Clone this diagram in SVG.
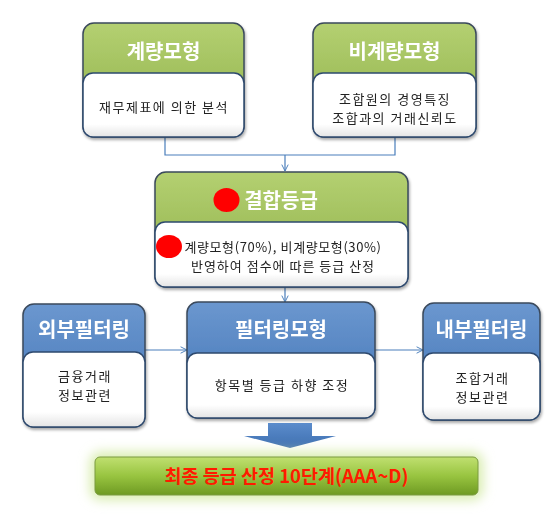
<svg xmlns="http://www.w3.org/2000/svg" width="560" height="517" viewBox="0 0 560 517">
<defs>
<linearGradient id="gG" x1="0" y1="0" x2="0" y2="1"><stop offset="0" stop-color="#b4d071"/><stop offset="1" stop-color="#8cae48"/></linearGradient>
<linearGradient id="gB" x1="0" y1="0" x2="0" y2="1"><stop offset="0" stop-color="#6b97cf"/><stop offset="1" stop-color="#3f72b4"/></linearGradient>
<linearGradient id="gW" x1="0" y1="0" x2="0" y2="1"><stop offset="0" stop-color="#ffffff"/><stop offset="0.8" stop-color="#ffffff"/><stop offset="1" stop-color="#e4e4e4"/></linearGradient>
<linearGradient id="gF" x1="0" y1="0" x2="0" y2="1"><stop offset="0" stop-color="#c0e070"/><stop offset="0.5" stop-color="#98c440"/><stop offset="1" stop-color="#6e9a22"/></linearGradient>
<linearGradient id="gA" x1="0" y1="0" x2="0" y2="1"><stop offset="0" stop-color="#5b8ccc"/><stop offset="1" stop-color="#3e6fb0"/></linearGradient>
<filter id="sh" x="-10%" y="-10%" width="120%" height="130%"><feGaussianBlur in="SourceAlpha" stdDeviation="1.5"/><feOffset dx="1" dy="2"/><feComponentTransfer><feFuncA type="linear" slope="0.35"/></feComponentTransfer><feMerge><feMergeNode/><feMergeNode in="SourceGraphic"/></feMerge></filter>
<filter id="glow" x="-10%" y="-60%" width="120%" height="220%"><feGaussianBlur stdDeviation="6"/></filter>
<marker id="ar" viewBox="0 0 10 10" refX="9" refY="5" markerWidth="8" markerHeight="8" orient="auto" markerUnits="userSpaceOnUse"><path d="M1,1 L9,5 L1,9" fill="none" stroke="#4a7ebb" stroke-width="1.2"/></marker>
</defs>
<style>
.outer{stroke:#3b4a5c;stroke-width:1.5}
.inner{fill:url(#gW);stroke:#2e4a6e;stroke-width:1.5}
.ttl{font-family:"Noto Sans CJK KR","Noto Sans",sans-serif;font-weight:bold;font-size:20px;fill:#ffffff;text-anchor:middle}
.bd{font-family:"Noto Sans CJK KR","Noto Sans",sans-serif;font-size:13px;letter-spacing:1.5px;fill:#222222;text-anchor:middle}
.cn{fill:none;stroke:#4a7ebb;stroke-width:1.2}
</style>
<rect width="560" height="517" fill="#ffffff"/>

<g id="connectors">
<path class="cn" d="M165,137 V155 H395 V137"/>
<path class="cn" d="M285,155 V171" marker-end="url(#ar)"/>
<path class="cn" d="M285,287 V302" marker-end="url(#ar)"/>
<path class="cn" d="M145,350 H187" marker-end="url(#ar)"/>
<path class="cn" d="M375,350 H423" marker-end="url(#ar)"/>
</g>

<g id="n1" filter="url(#sh)">
<rect class="outer" x="83" y="23" width="161" height="114" rx="11" fill="url(#gG)"/>
<rect class="inner" x="83" y="73" width="161" height="64" rx="10"/>
<text class="ttl" x="163.5" y="59">계량모형</text>
<text class="bd" x="164" y="112">재무제표에 의한 분석</text>
</g>

<g id="n2" filter="url(#sh)">
<rect class="outer" x="313" y="23" width="163" height="114" rx="11" fill="url(#gG)"/>
<rect class="inner" x="313" y="73" width="163" height="64" rx="10"/>
<text class="ttl" x="394.5" y="59">비계량모형</text>
<text class="bd" x="395" y="104">조합원의 경영특징</text>
<text class="bd" x="395" y="123">조합과의 거래신뢰도</text>
</g>

<g id="n3" filter="url(#sh)">
<rect class="outer" x="155" y="172" width="253" height="115" rx="11" fill="url(#gG)"/>
<rect class="inner" x="155" y="222" width="253" height="65" rx="10"/>
<ellipse cx="226.5" cy="200" rx="13" ry="12" fill="#ff0000"/>
<text class="ttl" x="281" y="207.5">결합등급</text>
<ellipse cx="169" cy="246.5" rx="13" ry="11.5" fill="#ff0000"/>
<text class="bd" x="283" y="251.5" style="letter-spacing:0.6px">계량모형(70%), 비계량모형(30%)</text>
<text class="bd" x="283" y="270.5" style="letter-spacing:1px">반영하여 점수에 따른 등급 산정</text>
</g>

<g id="n4" filter="url(#sh)">
<rect class="outer" x="23" y="304" width="122" height="123" rx="11" fill="url(#gB)"/>
<rect class="inner" x="23" y="352" width="122" height="75" rx="10"/>
<text class="ttl" x="84" y="337">외부필터링</text>
<text class="bd" x="85" y="381">금융거래</text>
<text class="bd" x="85" y="400">정보관련</text>
</g>

<g id="n5" filter="url(#sh)">
<rect class="outer" x="187" y="302" width="188" height="116" rx="11" fill="url(#gB)"/>
<rect class="inner" x="187" y="353" width="188" height="65" rx="10"/>
<text class="ttl" x="281" y="337">필터링모형</text>
<text class="bd" x="282" y="390">항목별 등급 하향 조정</text>
</g>

<g id="n6" filter="url(#sh)">
<rect class="outer" x="423" y="303" width="117" height="117" rx="11" fill="url(#gB)"/>
<rect class="inner" x="423" y="353" width="117" height="67" rx="10"/>
<text class="ttl" x="481.5" y="337">내부필터링</text>
<text class="bd" x="482.5" y="383">조합거래</text>
<text class="bd" x="482.5" y="402">정보관련</text>
</g>

<g id="bigarrow">
<path d="M268,423 H312 V436 H336 L290,448 L244,436 H268 Z" fill="url(#gA)"/>
</g>

<g id="final">
<rect x="90" y="452" width="393" height="48" rx="10" fill="#d8ecae" filter="url(#glow)"/>
<rect x="95" y="457" width="383" height="38" rx="5" fill="url(#gF)" stroke="#7a9a40" stroke-width="1"/>
<text x="286.5" y="482.5" font-family="'Noto Sans CJK KR','Noto Sans',sans-serif" font-weight="bold" font-size="18.5" fill="#ff1a00" text-anchor="middle">최종 등급 산정 10단계(AAA~D)</text>
</g>
</svg>
